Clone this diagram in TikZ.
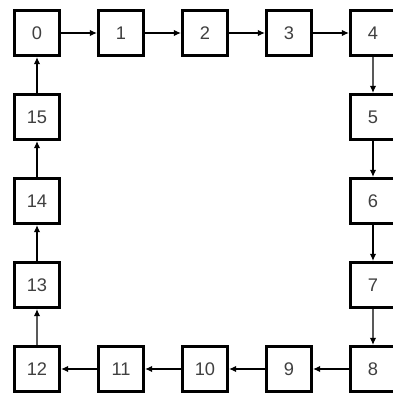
\documentclass[tikz,border=0pt]{standalone}
\usepackage{fontspec}
\setmainfont{Liberation Sans}
\usetikzlibrary{arrows.meta}
\tikzset{
  cell/.style={draw=black, line width=2.2pt, fill=white, minimum size=1.125cm,
    inner sep=0pt, font=\fontsize{13}{15}\selectfont, text=black!75},
  link/.style={-{Latex[length=1.8mm,width=1.6mm]}, line width=0.8pt, black}
}
\begin{document}
\begin{tikzpicture}
    % Canvas (right and bottom boxes are cut off)
    \useasboundingbox (0,0) rectangle (9.825,9.95);
    \clip (0,0) rectangle (9.825,9.95);
    % Top row
    \foreach \i in {0,...,4} {
      \node[cell] (b\i) at (0.925+2.1*\i,9.125) {\i};
    }
    % Right column
    \foreach \i in {5,6,7} {
      \node[cell] (b\i) at (9.325,9.125-2.1*\i+8.4) {\i};
    }
    % Bottom row
    \foreach \i in {8,...,12} {
      \node[cell] (b\i) at (9.325-2.1*\i+16.8,0.725) {\i};
    }
    % Left column
    \foreach \i in {13,14,15} {
      \node[cell] (b\i) at (0.925,0.725+2.1*\i-25.2) {\i};
    }
    % Links around the ring
    \foreach \i [evaluate=\i as \j using {int(mod(\i+1,16))}] in {0,...,15} {
      \draw[link] (b\i) -- (b\j);
    }
  \end{tikzpicture}
\end{document}
